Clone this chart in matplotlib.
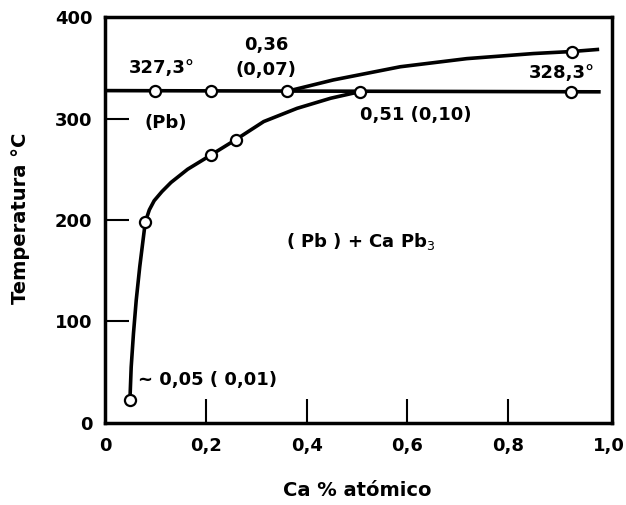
import numpy as np
import matplotlib
matplotlib.use("Agg")
import matplotlib.pyplot as plt

# horizontal line (melting of Pb / peritectic)
iso_x = [0.0, 0.98]
iso_t = [327.5, 326.3]
iso_pts_x = [0.10, 0.21, 0.362, 0.507, 0.924]
iso_pts_t = [327.4, 327.0, 326.9, 326.6, 326.4]

# liquidus
liq_x = [0.362, 0.453, 0.586, 0.718, 0.85, 0.926, 0.977]
liq_t = [326.9, 338.0, 351.0, 359.0, 364.0, 366.0, 368.0]
liq_pts_x = [0.926]
liq_pts_t = [366.0]

# solvus
sol_x = [0.0495, 0.052, 0.0565, 0.062, 0.069, 0.080, 0.088, 0.0976, 0.113,
         0.131, 0.164, 0.197, 0.21, 0.259, 0.315, 0.381, 0.448, 0.507]
sol_t = [22.7, 55, 88, 121, 154, 198, 210, 219, 228, 237, 250, 260, 264,
         279, 297, 310, 320, 326.6]
sol_pts_x = [0.0495, 0.080, 0.21, 0.259]
sol_pts_t = [22.7, 198, 264, 279]

xticks = [0, 0.2, 0.4, 0.6, 0.8, 1.0]
xlabels = ["0", "0,2", "0,4", "0,6", "0,8", "1,0"]
yticks = [0, 100, 200, 300, 400]

fig = plt.figure(figsize=(6.26, 5.05), dpi=100)
ax = fig.add_axes([0.1677, 0.1624, 0.8099, 0.8039])

lw = 2.6
ax.plot(iso_x, iso_t, color="black", lw=lw)
ax.plot(liq_x, liq_t, color="black", lw=lw)
ax.plot(sol_x, sol_t, color="black", lw=lw, solid_joinstyle="round")

mk = dict(ls="none", marker="o", ms=8, mfc="white", mec="black", mew=1.6, zorder=5)
ax.plot(iso_pts_x, iso_pts_t, **mk)
ax.plot(liq_pts_x, liq_pts_t, **mk)
ax.plot(sol_pts_x, sol_pts_t, **mk)

ax.set_xlim(0, 1.006)
ax.set_ylim(0, 400)
ax.set_xticks(xticks)
ax.set_xticklabels(xlabels)
ax.set_yticks(yticks)
ax.tick_params(direction="in", length=17.5, width=1.5, labelsize=13)
ax.tick_params(axis="x", pad=10)
ax.tick_params(axis="y", pad=9)
for t in (ax.xaxis.get_major_ticks()[0], ax.xaxis.get_major_ticks()[-1],
          ax.yaxis.get_major_ticks()[0], ax.yaxis.get_major_ticks()[-1]):
    t.tick1line.set_visible(False)
for lab in ax.get_xticklabels() + ax.get_yticklabels():
    lab.set_fontweight("bold")
for s in ax.spines.values():
    s.set_linewidth(2.5)

fs = 13
kw = dict(fontsize=fs, fontweight="bold", va="center")
ax.text(0.113, 350, "327,3°", ha="center", **kw)
ax.text(0.32, 372, "0,36", ha="center", **kw)
ax.text(0.32, 348, "(0,07)", ha="center", **kw)
ax.text(0.12, 296, "(Pb)", ha="center", **kw)
ax.text(0.907, 345, "328,3°", ha="center", **kw)
ax.text(0.507, 303, "0,51 (0,10)", ha="left", **kw)
ax.text(0.36, 179, "( Pb ) + Ca Pb$_3$", ha="left", **kw)
ax.text(0.066, 42, "~ 0,05 ( 0,01)", ha="left", **kw)

fig.text(0.032, 0.568, "Temperatura °C", rotation=90, fontsize=14,
         fontweight="bold", ha="center", va="center")
fig.text(0.570, 0.028, "Ca % atómico", fontsize=14, fontweight="bold",
         ha="center", va="center")

fig.savefig("out.png", dpi=100)
